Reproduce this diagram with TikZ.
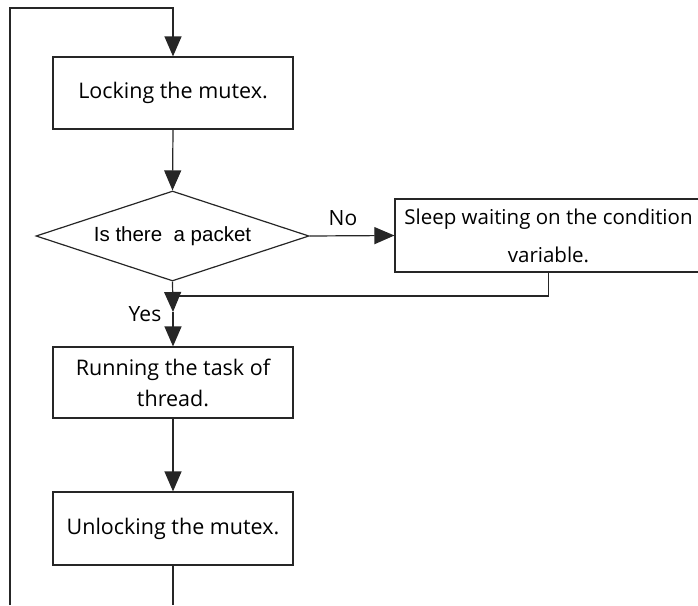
\documentclass[tikz,border=0pt]{standalone}
\usepackage{fontspec}
\setmainfont{Open Sans}
\newfontfamily\arialfont{Liberation Sans}
\usetikzlibrary{shapes.geometric,arrows.meta}

\tikzset{
  passo/.style={draw=black!85, line width=1.2pt, minimum width=240pt, minimum height=72pt,
    inner sep=0pt, align=center, font=\fontsize{21.5}{31}\selectfont},
  scelta/.style={draw=black!85, line width=1.2pt, diamond, aspect=3, minimum width=273pt,
    minimum height=90pt, inner sep=0pt, font=\arialfont\fontsize{20.5}{24}\selectfont},
  etichetta/.style={font=\fontsize{21}{24}\selectfont},
  freccia/.style={draw=black!85, line width=1.2pt, -{Triangle[length=20pt,width=17pt]}},
  linea/.style={draw=black!85, line width=1.2pt},
}

\begin{document}
\begin{tikzpicture}[x=1pt,y=-1pt]
  \useasboundingbox (0,0) rectangle (698,605);
  \clip (0,0) rectangle (698,605);

  % Blocchi
  \node[passo] (lock) at (173,93) {Locking the mutex.};
  \node[scelta] (pkt) at (172.5,236) {Is there\ \ a packet};
  \node[passo, minimum width=307pt, minimum height=73pt,
    font=\fontsize{20.5}{38}\selectfont] (sleep) at (548.5,235.5)
    {Sleep waiting on the condition\\variable.};
  \node[passo, minimum height=71pt] (run) at (173,382.5) {Running the task of\\thread.};
  \node[passo, minimum height=73pt] (unlock) at (173,528.5) {Unlocking the mutex.};

  % Punti di passaggio
  \coordinate (bordo) at (10,605);
  \coordinate (giro) at (10,8);
  \coordinate (j) at (173,312);
  \coordinate (m) at (173,296);
  \coordinate (fondo) at (173,605);

  % Etichette
  \node[etichetta] (no) at (343,218) {No};
  \node[etichetta] (si) at (145,314) {Yes};

  % Collegamenti
  \draw[freccia] (bordo) -- (giro) -| (lock.north);
  \draw[freccia] (lock.south) -- (pkt.north);
  \draw[freccia] (pkt.east) -- (sleep.west);
  \draw[linea] (sleep.south) |- (m);
  \draw[freccia] (pkt.south) -- (j);
  \draw[freccia] (j) -- (run.north);
  \draw[freccia] (run.south) -- (unlock.north);
  \draw[linea] (unlock.south) -- (fondo);
\end{tikzpicture}
\end{document}
